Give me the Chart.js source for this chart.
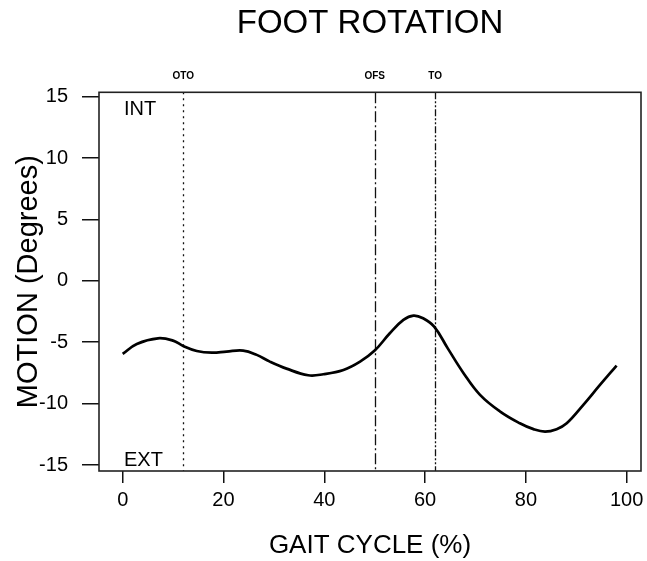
<!DOCTYPE html>
<html><head><meta charset="utf-8">
<script src="https://cdn.jsdelivr.net/npm/chart.js@4/dist/chart.umd.min.js"></script>
<style>html,body{margin:0;padding:0;background:#fff}#wrap{width:647px;height:561px;position:relative}</style>
</head><body><div id="wrap"><canvas id="c" width="647" height="561"></canvas></div>
<script>
// ---- data ----
const gaitPct = [0, 2.8, 7, 10, 12, 14.7, 17.7, 20.6, 23.9, 26.6, 29.2, 32.5, 36.8, 39.8, 43.8, 47.1, 50, 53, 55.7, 57.7, 59.6, 61.8, 64.5, 67.6, 70.9, 74.9, 78.8, 81.5, 83.8, 86.1, 88.1, 91.4, 94.7, 98];
const motionDeg = [-5.95, -5.14, -4.68, -4.87, -5.3, -5.71, -5.85, -5.76, -5.68, -6.03, -6.58, -7.15, -7.69, -7.61, -7.26, -6.58, -5.68, -4.27, -3.18, -2.83, -3.05, -3.73, -5.5, -7.5, -9.29, -10.65, -11.6, -12.08, -12.28, -12.08, -11.6, -10.1, -8.48, -6.9];
const xTickValues = [0, 20, 40, 60, 80, 100];
const yTickValues = [-15, -10, -5, 0, 5, 10, 15];
const eventPct = [12, 50, 62];
const eventLabels = ['OTO', 'OFS', 'TO'];
const topLabel = 'INT';
const bottomLabel = 'EXT';

const FONT = '"Liberation Sans", Arial, Helvetica, sans-serif';
const eventDash = [[2, 4], [11, 3, 2, 3], [7, 2, 2, 2, 2, 2]];

const decor = {
  id: 'decor',
  beforeDatasetsDraw(chart) {
    const {ctx, chartArea: a, scales: {x}} = chart;
    ctx.save();
    ctx.strokeStyle = '#111';
    ctx.lineWidth = 1.3;
    eventPct.forEach((v, i) => {
      const px = Math.round(x.getPixelForValue(v)) + 0.5;
      ctx.setLineDash(eventDash[i]);
      ctx.beginPath();
      ctx.moveTo(px, a.top);
      ctx.lineTo(px, a.bottom);
      ctx.stroke();
    });
    ctx.restore();
  },
  afterDraw(chart) {
    const {ctx, chartArea: a, scales: {x}} = chart;
    ctx.save();
    ctx.strokeStyle = '#222';
    ctx.lineWidth = 1.6;
    ctx.strokeRect(a.left, a.top, a.right - a.left, a.bottom - a.top);
    ctx.fillStyle = '#000';
    ctx.font = 'bold 10px ' + FONT;
    ctx.textAlign = 'center';
    ctx.textBaseline = 'middle';
    eventPct.forEach((v, i) => {
      ctx.fillText(eventLabels[i], x.getPixelForValue(v), 76);
    });
    ctx.font = '20px ' + FONT;
    ctx.textAlign = 'left';
    ctx.textBaseline = 'alphabetic';
    ctx.fillText(topLabel, a.left + 25, a.top + 23);
    ctx.fillText(bottomLabel, a.left + 25, a.bottom - 5);
    ctx.restore();
  }
};

new Chart(document.getElementById('c'), {
  type: 'scatter',
  data: {
    datasets: [{
      data: gaitPct.map((g, i) => ({x: g, y: motionDeg[i]})),
      showLine: true,
      borderColor: '#000',
      borderWidth: 2.7,
      pointRadius: 0,
      tension: 0.4,
      fill: false
    }]
  },
  options: {
    responsive: false,
    animation: false,
    layout: {padding: {left: 0, right: 6, top: 0, bottom: 0}},
    plugins: {
      legend: {display: false},
      tooltip: {enabled: false},
      title: {
        display: true,
        text: 'FOOT ROTATION',
        color: '#000',
        fullSize: false,
        font: {family: FONT, size: 33, weight: 'normal', lineHeight: 1.2},
        padding: {top: 4, bottom: 48.7}
      }
    },
    scales: {
      x: {
        type: 'linear',
        min: -4.7, max: 102.84,
        afterBuildTicks: s => { s.ticks = xTickValues.map(v => ({value: v})); },
        afterFit: s => { s.height = 90; s.paddingLeft = 0; s.paddingRight = 0; },
        border: {display: false},
        grid: {display: true, drawOnChartArea: false, drawTicks: true, tickLength: 12, tickColor: '#111', lineWidth: 1.5},
        ticks: {color: '#000', font: {family: FONT, size: 20}, padding: 5, maxRotation: 0},
        title: {display: true, text: 'GAIT CYCLE (%)', color: '#000', font: {family: FONT, size: 26}, padding: {top: 0, bottom: 0}}
      },
      y: {
        type: 'linear',
        min: -15.49, max: 15.36,
        afterBuildTicks: s => { s.ticks = yTickValues.map(v => ({value: v})); },
        afterFit: s => { s.width = 99; s.paddingTop = 0; s.paddingBottom = 0; },
        border: {display: false},
        grid: {display: true, drawOnChartArea: false, drawTicks: true, tickLength: 17, tickColor: '#111', lineWidth: 1.5},
        ticks: {color: '#000', font: {family: FONT, size: 20}, padding: 14},
        title: {display: true, text: 'MOTION (Degrees)', color: '#000', font: {family: FONT, size: 29}, padding: {top: 12, bottom: 0}}
      }
    }
  },
  plugins: [decor]
});
</script>
</body></html>
